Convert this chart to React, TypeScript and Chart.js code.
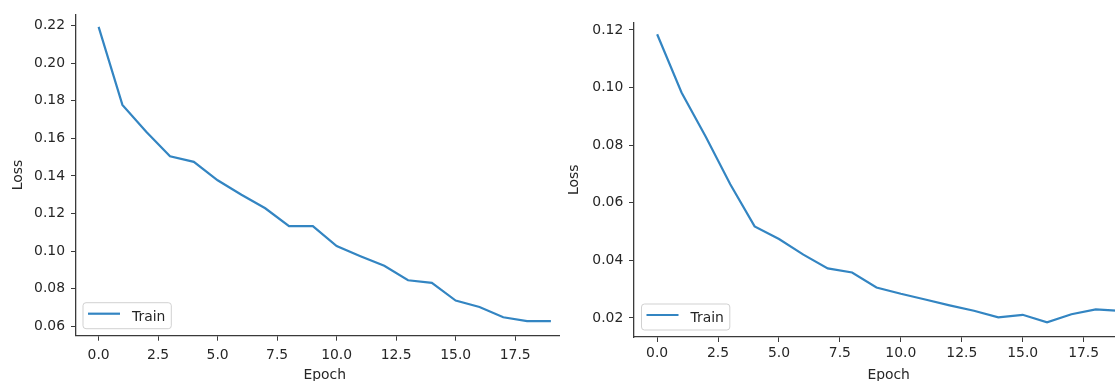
import React, { useEffect, useRef } from "react";
import { Chart, registerables } from "chart.js";

Chart.register(...registerables);

// ---- data ----
const epochs = [0, 1, 2, 3, 4, 5, 6, 7, 8, 9, 10, 11, 12, 13, 14, 15, 16, 17, 18, 19];
const leftLoss = [
  0.2193, 0.1778, 0.1635, 0.1505, 0.1475, 0.1377, 0.13, 0.1228, 0.1133, 0.1133,
  0.1027, 0.0973, 0.0922, 0.0845, 0.0831, 0.0737, 0.0703, 0.0648, 0.0628, 0.0628,
];
const rightLoss = [
  0.1185, 0.0983, 0.0828, 0.0664, 0.0518, 0.0474, 0.042, 0.0372, 0.0358, 0.0306,
  0.0284, 0.0264, 0.0244, 0.0225, 0.0202, 0.0211, 0.0185, 0.0213, 0.023, 0.0225,
];
const xTickValues = [0, 2.5, 5, 7.5, 10, 12.5, 15, 17.5];
const leftYTicks = [0.06, 0.08, 0.1, 0.12, 0.14, 0.16, 0.18, 0.2, 0.22];
const rightYTicks = [0.02, 0.04, 0.06, 0.08, 0.1, 0.12];
const seriesLabel = "Train";
const xTitle = "Epoch";
const yTitle = "Loss";

const FONT = '"DejaVu Sans", sans-serif';
const FS = 13.9;
const TEXT = "#262626";
const SPINE = "#3a3a3a";
const LINE = "#3385c2";

const legendPlugin = {
  id: "boxLegend",
  afterDatasetsDraw(chart: any, _args: any, opts: any) {
    const ctx = chart.ctx;
    const ca = chart.chartArea;
    const ds = chart.data.datasets[0];
    ctx.save();
    ctx.font = `${FS}px ${FONT}`;
    const tw = ctx.measureText(ds.label).width;
    const h = 26;
    const left = ca.left + opts.insetX;
    const bottom = ca.bottom - opts.insetY;
    const top = bottom - h;
    const w = 49 + tw + 6;
    const r = 3;
    ctx.beginPath();
    ctx.moveTo(left + r, top);
    ctx.lineTo(left + w - r, top);
    ctx.arcTo(left + w, top, left + w, top + r, r);
    ctx.lineTo(left + w, bottom - r);
    ctx.arcTo(left + w, bottom, left + w - r, bottom, r);
    ctx.lineTo(left + r, bottom);
    ctx.arcTo(left, bottom, left, bottom - r, r);
    ctx.lineTo(left, top + r);
    ctx.arcTo(left, top, left + r, top, r);
    ctx.closePath();
    ctx.fillStyle = "rgba(255,255,255,0.85)";
    ctx.fill();
    ctx.strokeStyle = "rgba(204,204,204,0.9)";
    ctx.lineWidth = 1;
    ctx.stroke();
    ctx.beginPath();
    ctx.moveTo(left + 5, top + 11);
    ctx.lineTo(left + 37, top + 11);
    ctx.strokeStyle = ds.borderColor;
    ctx.lineWidth = 2.2;
    ctx.stroke();
    ctx.fillStyle = TEXT;
    ctx.textBaseline = "alphabetic";
    ctx.textAlign = "left";
    ctx.fillText(ds.label, left + 49, top + 18);
    ctx.restore();
  },
};

type Props = {
  values: number[];
  yTicks: number[];
  yMin: number;
  yMax: number;
  canvasW: number;
  canvasH: number;
  yAxisW: number;
  padTop: number;
  padRight: number;
  xAxisH: number;
  xTickPad: number;
  yTickPad: number;
  yTitlePad: number;
  xTitlePad: number;
  legendInsetX: number;
  legendInsetY: number;
};

function LossChart(p: Props) {
  const ref = useRef<HTMLCanvasElement | null>(null);
  useEffect(() => {
    if (!ref.current) return;
    const chart = new Chart(ref.current, {
      type: "line",
      data: {
        datasets: [
          {
            label: seriesLabel,
            data: epochs.map((e, i) => ({ x: e, y: p.values[i] })),
            borderColor: LINE,
            backgroundColor: LINE,
            borderWidth: 2.2,
            pointRadius: 0,
            tension: 0,
            fill: false,
          },
        ],
      },
      options: {
        responsive: false,
        animation: false,
        devicePixelRatio: 1,
        layout: {
          autoPadding: false,
          padding: { left: 0, top: p.padTop, right: p.padRight, bottom: 0 },
        } as any,
        plugins: {
          legend: { display: false },
          tooltip: { enabled: false },
          boxLegend: { insetX: p.legendInsetX, insetY: p.legendInsetY },
        } as any,
        scales: {
          x: {
            type: "linear",
            min: -0.95,
            max: 19.95,
            afterBuildTicks: (s: any) => {
              s.ticks = xTickValues.map((v) => ({ value: v }));
            },
            afterFit: (s: any) => {
              s.height = p.xAxisH;
            },
            ticks: {
              callback: (v: any) => Number(v).toFixed(1),
              font: { family: FONT, size: FS },
              color: TEXT,
              padding: p.xTickPad,
              maxRotation: 0,
              autoSkip: false,
            },
            grid: {
              display: true,
              drawOnChartArea: false,
              drawTicks: true,
              tickLength: 5,
              tickWidth: 1,
              tickColor: SPINE,
              color: SPINE,
            },
            border: { display: true, color: SPINE, width: 1.3 },
            title: {
              display: true,
              text: xTitle,
              font: { family: FONT, size: FS },
              color: TEXT,
              padding: { top: 0, bottom: p.xTitlePad },
            },
          },
          y: {
            type: "linear",
            min: p.yMin,
            max: p.yMax,
            afterBuildTicks: (s: any) => {
              s.ticks = p.yTicks.map((v) => ({ value: v }));
            },
            afterFit: (s: any) => {
              s.width = p.yAxisW;
            },
            ticks: {
              callback: (v: any) => Number(v).toFixed(2),
              font: { family: FONT, size: FS },
              color: TEXT,
              padding: p.yTickPad,
              autoSkip: false,
            },
            grid: {
              display: true,
              drawOnChartArea: false,
              drawTicks: true,
              tickLength: 5,
              tickWidth: 1,
              tickColor: SPINE,
              color: SPINE,
            },
            border: { display: true, color: SPINE, width: 1.3 },
            title: {
              display: true,
              text: yTitle,
              font: { family: FONT, size: FS },
              color: TEXT,
              padding: { top: p.yTitlePad, bottom: 0 },
            },
          },
        },
      },
      plugins: [legendPlugin as any],
    });
    return () => chart.destroy();
  }, []);
  return (
    <canvas
      ref={ref}
      width={p.canvasW}
      height={p.canvasH}
      style={{ position: "absolute", left: 0, top: 0, width: p.canvasW, height: p.canvasH }}
    />
  );
}

export default function App() {
  return (
    <div
      style={{
        position: "fixed",
        left: 0,
        top: 0,
        width: 1115,
        height: 381,
        overflow: "hidden",
        background: "#fff",
      }}
    >
      <div style={{ position: "absolute", left: 0, top: 0, width: 560, height: 381, overflow: "hidden" }}>
        <LossChart
          values={leftLoss}
          yTicks={leftYTicks}
          yMin={0.055}
          yMax={0.226}
          canvasW={600}
          canvasH={400}
          yAxisW={76}
          padTop={12}
          padRight={26.5}
          xAxisH={64.3}
          xTickPad={6}
          yTickPad={6}
          yTitlePad={9.66}
          xTitlePad={16.66}
          legendInsetX={7}
          legendInsetY={7}
        />
      </div>
      <div style={{ position: "absolute", left: 560, top: 0, width: 555, height: 381, overflow: "hidden" }}>
        <LossChart
          values={rightLoss}
          yTicks={rightYTicks}
          yMin={0.0134}
          yMax={0.1225}
          canvasW={620}
          canvasH={400}
          yAxisW={74}
          padTop={22.7}
          padRight={36.7}
          xAxisH={63}
          xTickPad={3.5}
          yTickPad={5.7}
          yTitlePad={5.66}
          xTitlePad={16.66}
          legendInsetX={7.5}
          legendInsetY={7}
        />
      </div>
    </div>
  );
}
